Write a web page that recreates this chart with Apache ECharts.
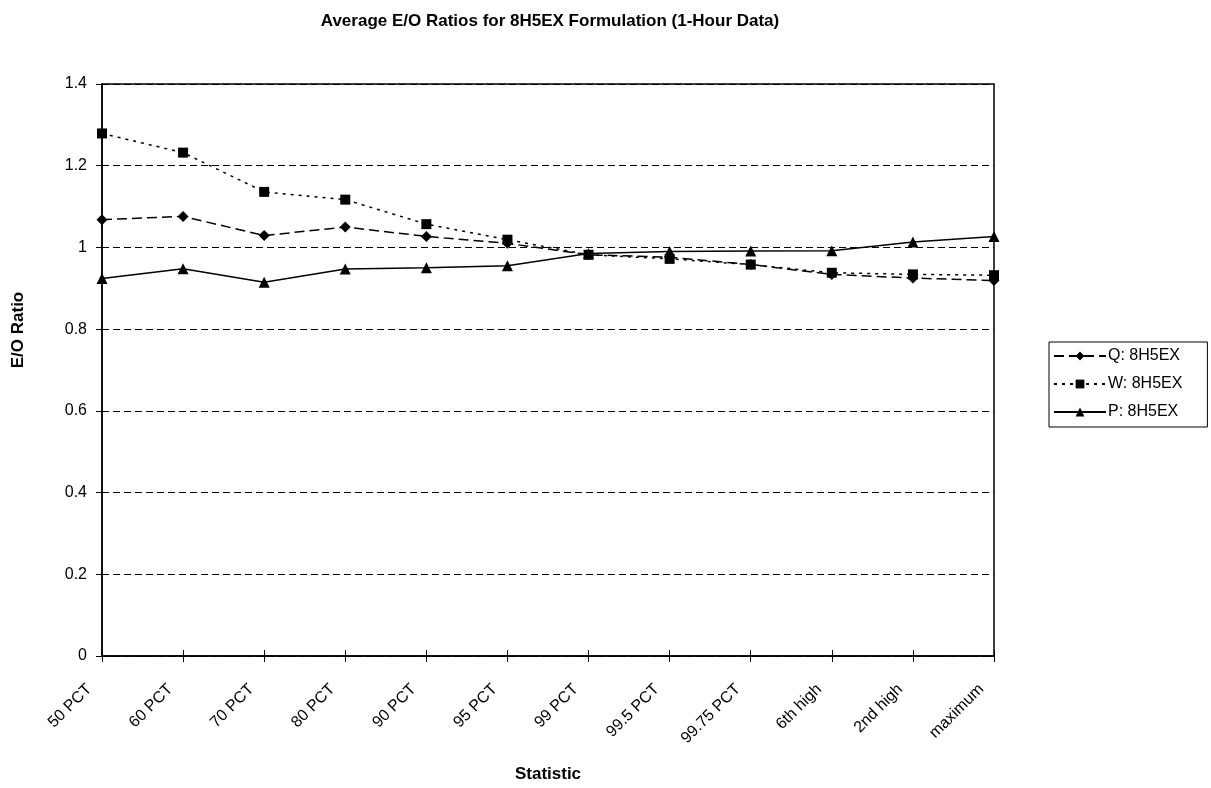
<!DOCTYPE html>
<html>
<head>
<meta charset="utf-8">
<script src="https://cdn.jsdelivr.net/npm/echarts@6/dist/echarts.min.js"></script>
<style>
  html, body { margin: 0; padding: 0; background: #fff; }
  #chart { width: 1211px; height: 788px; }
</style>
</head>
<body>
<div id="chart"></div>
<script>
// Statistic categories along the x axis
const categories = ['50 PCT', '60 PCT', '70 PCT', '80 PCT', '90 PCT', '95 PCT',
  '99 PCT', '99.5 PCT', '99.75 PCT', '6th high', '2nd high', 'maximum'];

// Average E/O ratios per model
const qValues = [1.068, 1.076, 1.029, 1.050, 1.027, 1.010, 0.982, 0.976, 0.958, 0.934, 0.925, 0.919];
const wValues = [1.279, 1.232, 1.136, 1.117, 1.057, 1.019, 0.982, 0.972, 0.958, 0.938, 0.934, 0.932];
const pValues = [0.924, 0.948, 0.915, 0.947, 0.950, 0.955, 0.985, 0.990, 0.991, 0.992, 1.013, 1.027];

const seriesNames = ['Q: 8H5EX', 'W: 8H5EX', 'P: 8H5EX'];

const font = 'Liberation Sans, Arial, sans-serif';

const chart = echarts.init(document.getElementById('chart'), null, { renderer: 'canvas' });

function lineSeries(name, data, symbol, size, dash) {
  return {
    name: name,
    type: 'line',
    data: data,
    symbol: symbol,
    symbolSize: size,
    showAllSymbol: true,
    lineStyle: { color: '#000', width: 1.5, type: dash },
    itemStyle: { color: '#000', borderWidth: 0 },
    emphasis: { disabled: true },
    animation: false,
    z: 3
  };
}

const yMin = 0, yMax = 1.4, yStep = 0.2;

chart.setOption({
  backgroundColor: '#fff',
  animation: false,
  title: {
    text: 'Average E/O Ratios for 8H5EX Formulation (1-Hour Data)',
    left: 545,
    textAlign: 'center',
    top: 8,
    textStyle: { fontFamily: font, fontSize: 17, fontWeight: 'bold', color: '#000' }
  },
  grid: {
    left: 102, right: 217, top: 84, bottom: 132,
    show: true, borderColor: '#000', borderWidth: 1.5, backgroundColor: 'transparent'
  },
  legend: {
    orient: 'vertical',
    left: 1049,
    top: 342,
    width: 158,
    padding: [6, 25, 7, 4],
    itemGap: 12,
    itemWidth: 52,
    itemHeight: 11,
    borderColor: '#000',
    borderWidth: 1,
    data: seriesNames,
    textStyle: { fontFamily: font, fontSize: 16, color: '#000', padding: [0, 0, 0, -3] },
    selectedMode: false
  },
  xAxis: [{
    type: 'category',
    data: categories,
    boundaryGap: false,
    name: 'Statistic',
    nameLocation: 'middle',
    nameGap: 110,
    nameTextStyle: { fontFamily: font, fontSize: 17, fontWeight: 'bold', color: '#000' },
    axisLine: { lineStyle: { color: '#000', width: 1.5 } },
    axisTick: { show: true, alignWithLabel: true, length: 6, lineStyle: { color: '#000' } },
    axisLabel: {
      rotate: 45, fontFamily: font, fontSize: 16, color: '#000',
      margin: 18, padding: [0, 18, 0, 0], interval: 0
    },
    splitLine: { show: false }
  }, {
    // inner half of the crossing tick marks
    type: 'category',
    data: categories,
    boundaryGap: false,
    position: 'bottom',
    axisLine: { show: false },
    axisTick: { show: true, inside: true, alignWithLabel: true, length: 6, lineStyle: { color: '#000' } },
    axisLabel: { show: false },
    splitLine: { show: false }
  }],
  yAxis: [{
    type: 'value',
    min: yMin,
    max: yMax,
    interval: yStep,
    name: 'E/O Ratio',
    nameLocation: 'middle',
    nameGap: 75,
    nameRotate: 90,
    nameTextStyle: {
      fontFamily: font, fontSize: 17, fontWeight: 'bold', color: '#000',
      padding: [0, 0, 0, 80]
    },
    axisLine: { show: true, lineStyle: { color: '#000', width: 1.5 } },
    axisTick: { show: true, length: 6, lineStyle: { color: '#000' } },
    axisLabel: {
      fontFamily: font, fontSize: 16, color: '#000', margin: 15,
      formatter: function (v) { return String(Math.round(v * 10) / 10); }
    },
    splitLine: { show: true, lineStyle: { color: '#000', width: 1, type: [7, 4] } }
  }, {
    // inner half of the crossing tick marks
    type: 'value',
    min: yMin,
    max: yMax,
    interval: yStep,
    position: 'left',
    axisLine: { show: false },
    axisTick: { show: true, inside: true, length: 6, lineStyle: { color: '#000' } },
    axisLabel: { show: false },
    splitLine: { show: false }
  }],
  series: [
    lineSeries(seriesNames[0], qValues, 'diamond', 11, [10, 5]),
    lineSeries(seriesNames[1], wValues, 'rect', 10, [3, 5]),
    lineSeries(seriesNames[2], pValues, 'triangle', 11, 'solid')
  ]
});
</script>
</body>
</html>
